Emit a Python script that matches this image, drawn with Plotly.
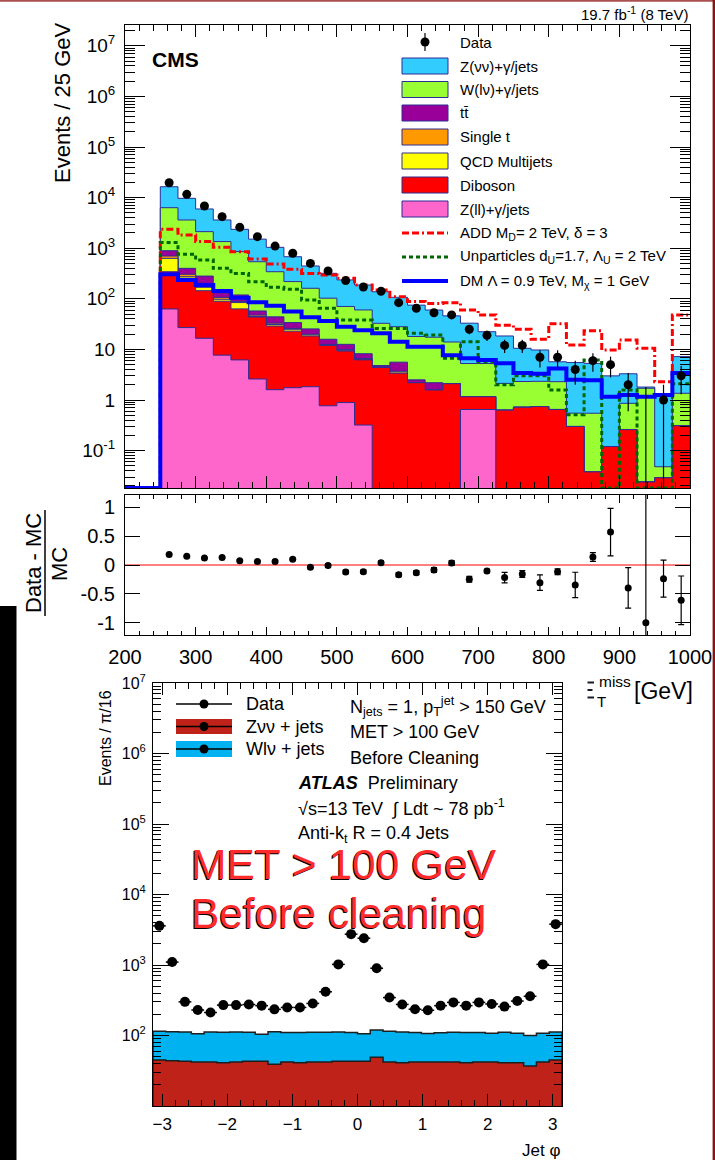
import numpy as np
import plotly.graph_objects as go

FIG_W, FIG_H = 715, 1160
FONT = "Liberation Sans, Arial, sans-serif"


def px(x):
    return x / FIG_W


def py(y):
    return 1 - y / FIG_H


# ---------------- CMS monojet: missing transverse energy ----------------
met_edges = np.arange(250, 1001, 25)
met_centers = met_edges[:-1] + 12.5

met_data = [19700, 11600, 6820, 4200, 2580, 1690, 1100, 794, 500, 355,
            229, 171, 141, 84, 65, 53, 48, 25, 19, 12,
            12, 7, 7, 4, 6, 5, 2, 0, 1, 3]
met_data_err_up = [140, 108, 83, 65, 51, 41, 33, 28, 22, 19,
                   15, 13, 12, 9.2, 8.1, 7.3, 6.9, 5.0, 4.4, 3.5,
                   3.5, 2.6, 2.6, 2.0, 2.4, 2.2, 1.4, 1.8, 1.0, 1.7]
met_data_err_dn = [140, 108, 83, 65, 51, 41, 33, 28, 22, 19,
                   15, 13, 12, 9.2, 8.1, 7.3, 6.9, 5.0, 4.4, 3.5,
                   3.5, 2.6, 2.6, 2.0, 2.4, 2.2, 1.4, 0.0, 1.0, 1.7]

# background processes, bottom of the stack first
zll = [63, 27, 16.6, 7.7, 6.2, 2.6, 1.6, 1.75, 1.83, 0.77,
       0.89, 0.32, 0, 0, 0, 0, 0, 0.65, 0.65, 0,
       0, 0, 0, 0, 0, 0, 0, 0, 0, 0]
diboson = [280, 227, 128, 82, 57, 41, 27.4, 21.2, 16.6, 11.2,
           8.4, 5.9, 4.4, 3.4, 2.2, 1.58, 2.1, 0.51, 0.51, 0.63,
           0.72, 0.74, 0.65, 0.30, 0.038, 0.12, 0.26, 0.024, 0.029, 0.31]
qcd = [287, 19, 24, 8, 21, 1, 2, 2, 1, 0.3,
       0.3, 0.1, 0, 0.2, 0, 0, 0, 0, 0, 0,
       0, 0, 0, 0, 0, 0, 0, 0, 0, 0]
single_t = [71, 32, 33, 9, 4, 3, 2, 1, 0.5, 0.3,
            0.3, 0.3, 0.1, 0.1, 0, 0, 0, 0, 0, 0,
            0, 0, 0, 0, 0, 0, 0, 0, 0, 0]
ttbar = [191, 95, 80, 25, 31, 10, 11, 8, 5.5, 3.3,
         2.7, 1.6, 0.3, 1.9, 0.3, 0.62, 0, 0, 0, 0,
         0, 0, 0, 0, 0, 0, 0, 0, 0, 0]
wlnu = [5420, 3210, 1840, 1220, 736, 483, 299, 185, 136, 87,
        58, 52, 28, 22.5, 15.5, 15.2, 11.9, 4.1, 4.1, 1.5,
        1.6, 1.6, 1.65, 0.25, 0.51, 0, 0.6, 1.68, 0.019, 1.05]
znunu = [10090, 6070, 3840, 2260, 1505, 969, 697, 459, 284, 216,
         166, 127, 105, 79, 57, 42.6, 32, 27.7, 17.1, 16.3,
         8.2, 7.4, 3.4, 4.95, 4.75, 2.88, 2.44, 0.1, 1.26, 5.84]

# signal hypotheses
add_signal = [2360, 1820, 1350, 1040, 855, 612, 487, 383, 318, 295,
              254, 187, 149, 110, 88, 81, 84, 60, 48, 30,
              25, 15.9, 32, 12.2, 23.4, 9.7, 15.3, 10.5, 2.3, 48]
unparticles = [1290, 760, 585, 400, 318, 218, 169, 154, 95, 65,
               38, 38, 26, 26, 20.8, 19.3, 6.7, 14.2, 5.7, 2.0,
               3.0, 3.0, 1.58, 0.51, 6.2, 0, 1.58, 0, 0, 2.1]
dm_signal = [305, 236, 187, 143, 105, 85, 73, 56, 43, 36.5,
             28, 24, 20.8, 14.2, 11.3, 11.3, 7.7, 6.7, 6.2, 5.3,
             3.4, 3.3, 4.2, 2.5, 2.45, 1.16, 1.26, 1.16, 1.26, 3.4]

# (Data - MC) / MC
ratio = [0.18, 0.15, 0.12, 0.13, 0.075, 0.06, 0.06, 0.10, -0.04, -0.01,
         -0.12, -0.115, 0.04, -0.167, -0.132, -0.086, 0.034, -0.247, -0.103, -0.218,
         -0.155, -0.305, -0.115, -0.345, 0.138, 0.569, -0.397, -1.0, -0.236, -0.61]
ratio_err = [0.01, 0.01, 0.01, 0.015, 0.015, 0.02, 0.02, 0.02, 0.025, 0.03,
             0.03, 0.03, 0.03, 0.035, 0.035, 0.04, 0.04, 0.05, 0.03, 0.09,
             0.06, 0.135, 0.05, 0.22, 0.075, 0.41, 0.35, 3.0, 0.32, 0.42]

cms_y_ticks = [1e-1, 1, 10, 1e2, 1e3, 1e4, 1e5, 1e6, 1e7]
cms_y_labels = ["10<sup>-1</sup>", "1", "10", "10<sup>2</sup>", "10<sup>3</sup>",
                "10<sup>4</sup>", "10<sup>5</sup>", "10<sup>6</sup>", "10<sup>7</sup>"]
ratio_ticks = [-1, -0.5, 0, 0.5, 1]
ratio_labels = ["-1", "-0.5", "0", "0.5", "1"]
met_ticks = [200, 300, 400, 500, 600, 700, 800, 900, 1000]
met_labels = ["200", "300", "400", "500", "600", "700", "800", "900", "1000"]

# ---------------- ATLAS: jet phi before cleaning ----------------
phi_edges = np.linspace(-np.pi, np.pi, 33)
phi_centers = 0.5 * (phi_edges[1:] + phi_edges[:-1])

phi_data = [3590, 1100, 300, 230, 212, 270, 270, 275, 265, 235,
            250, 250, 285, 417, 1020, 2740, 2400, 900, 345, 276,
            236, 228, 265, 295, 265, 295, 280, 257, 308, 360,
            1020, 3800]
phi_zvv = [45, 44, 43, 42, 42, 41, 42, 43, 43, 39,
           42, 41, 42, 42, 43, 43, 43, 49, 42, 41,
           42, 42, 42, 42, 41, 42, 42, 41, 41, 37,
           42, 45]
phi_wlv = [70, 69, 69, 64, 70, 70, 70, 68, 61, 74,
           68, 69, 69, 69, 69, 67, 63, 71, 73, 71,
           68, 65, 67, 69, 69, 68, 66, 70, 67, 63,
           66, 67]

atlas_y_ticks = [1e2, 1e3, 1e4, 1e5, 1e6, 1e7]
atlas_y_labels = ["10<sup>2</sup>", "10<sup>3</sup>", "10<sup>4</sup>",
                  "10<sup>5</sup>", "10<sup>6</sup>", "10<sup>7</sup>"]
phi_ticks = [-3, -2, -1, 0, 1, 2, 3]
phi_labels = ["\u22123", "\u22122", "\u22121", "0", "1", "2", "3"]

# ---------------- styles ----------------
STACK_EDGE = "rgb(45,45,150)"
stack_colors = ["#ff66cc", "#ff0000", "#ffff00", "#ff9900", "#990099", "#99ff33", "#33ccff"]
ZVV_RED = "rgb(190,34,24)"
WLV_CYAN = "rgb(0,178,240)"
ADD_DASH = "7px,3px,7px,3px,2px,3px"
UNP_DASH = "4px,3px"

CMS_YMIN, CMS_YMAX = -1.739, 7.411
STACK_FLOOR = 1e-4
LINE_FLOOR = 10 ** CMS_YMIN

fig = go.Figure()

# CMS stacked backgrounds: draw cumulative totals from the top down
layers = np.array([zll, diboson, qcd, single_t, ttbar, wlnu, znunu], dtype=float)
cum = np.cumsum(layers, axis=0)
step_x = np.concatenate([[met_edges[0]], met_edges, [met_edges[-1]]])
for i in reversed(range(len(layers))):
    vals = np.maximum(cum[i], STACK_FLOOR)
    step_y = np.concatenate([[STACK_FLOOR], vals, [vals[-1], STACK_FLOOR]])
    fig.add_trace(go.Scatter(
        x=step_x, y=step_y, mode="lines", fill="toself", fillcolor=stack_colors[i],
        line=dict(shape="hv", color=STACK_EDGE, width=1),
        xaxis="x", yaxis="y", showlegend=False, hoverinfo="skip"))

# signal lines (empty bins sit on the lower frame edge)
sig_x = np.concatenate([[200], met_edges])
for vals, color, dash, width in [
        (add_signal, "#ff0000", ADD_DASH, 3),
        (unparticles, "#006600", UNP_DASH, 3),
        (dm_signal, "#0000ff", "solid", 4)]:
    v = np.maximum(np.asarray(vals, dtype=float), LINE_FLOOR)
    sig_y = np.concatenate([[LINE_FLOOR], v, [v[-1]]])
    fig.add_trace(go.Scatter(
        x=sig_x, y=sig_y, mode="lines",
        line=dict(shape="hv", color=color, width=width, dash=dash),
        xaxis="x", yaxis="y", showlegend=False, hoverinfo="skip"))

# observed data
data_arr = np.asarray(met_data, dtype=float)
data_plot = np.where(data_arr > 0, data_arr, STACK_FLOOR)
err_dn = np.minimum(np.asarray(met_data_err_dn, dtype=float), data_plot - STACK_FLOOR)
fig.add_trace(go.Scatter(
    x=met_centers, y=data_plot, mode="markers",
    marker=dict(color="black", size=9),
    error_y=dict(type="data", symmetric=False, array=met_data_err_up,
                 arrayminus=err_dn, width=0, thickness=1.2, color="black"),
    xaxis="x", yaxis="y", showlegend=False, hoverinfo="skip"))

# ratio panel
fig.add_trace(go.Scatter(
    x=met_centers, y=ratio, mode="markers",
    marker=dict(color="black", size=7),
    error_y=dict(type="data", array=ratio_err, width=3, thickness=1.2, color="black"),
    xaxis="x2", yaxis="y2", showlegend=False, hoverinfo="skip"))

# ATLAS stack
phi_step_x = np.concatenate([[phi_edges[0]], phi_edges, [phi_edges[-1]]])
phi_total = np.asarray(phi_zvv, dtype=float) + np.asarray(phi_wlv, dtype=float)
for vals, color in [(phi_total, WLV_CYAN), (np.asarray(phi_zvv, dtype=float), ZVV_RED)]:
    step_y = np.concatenate([[1.0], vals, [vals[-1], 1.0]])
    fig.add_trace(go.Scatter(
        x=phi_step_x, y=step_y, mode="lines", fill="toself", fillcolor=color,
        line=dict(shape="hv", color="rgb(30,30,30)", width=1.5),
        xaxis="x3", yaxis="y3", showlegend=False, hoverinfo="skip"))

fig.add_trace(go.Scatter(
    x=phi_centers, y=phi_data, mode="markers",
    marker=dict(color="black", size=10),
    error_x=dict(type="constant", value=np.pi / 32, width=0, thickness=1.5, color="black"),
    xaxis="x3", yaxis="y3", showlegend=False, hoverinfo="skip"))

# ---------------- axes ----------------
def log_minor(lo, hi):
    return [k * 10.0 ** e for e in range(lo, hi) for k in range(2, 10)]


axis_common = dict(showline=True, linecolor="black", linewidth=1, mirror="allticks",
                   ticks="inside", tickcolor="black", showgrid=False, zeroline=False,
                   automargin=False,
                   tickfont=dict(family=FONT, color="black"))

fig.update_layout(
    xaxis=dict(axis_common, domain=[px(125), px(690)], range=[200, 1000], anchor="y",
               tickmode="array", tickvals=met_ticks, ticklen=12, showticklabels=False,
               minor=dict(tickmode="linear", tick0=200, dtick=20, ticklen=6, ticks="inside",
                          tickcolor="black")),
    yaxis=dict(axis_common, type="log", domain=[py(488), py(25)], range=[CMS_YMIN, CMS_YMAX],
               anchor="x", tickmode="array", tickvals=cms_y_ticks, ticktext=cms_y_labels,
               ticklen=20, tickfont=dict(family=FONT, size=19, color="black"),
               ticklabelstandoff=5,
               minor=dict(tickmode="array", tickvals=log_minor(-2, 8), ticklen=10,
                          ticks="inside", tickcolor="black")),
    xaxis2=dict(axis_common, domain=[px(125), px(690)], range=[200, 1000], anchor="y2",
                tickmode="array", tickvals=met_ticks, ticktext=met_labels, ticklen=8,
                tickfont=dict(family=FONT, size=20, color="black"), ticklabelstandoff=4,
                minor=dict(tickmode="linear", tick0=200, dtick=20, ticklen=4, ticks="inside",
                           tickcolor="black")),
    yaxis2=dict(axis_common, domain=[py(635), py(495)], range=[-1.21, 1.21], anchor="x2",
                tickmode="array", tickvals=ratio_ticks, ticktext=ratio_labels, ticklen=15,
                tickfont=dict(family=FONT, size=20, color="black"), ticklabelstandoff=5),
    xaxis3=dict(axis_common, domain=[px(153), px(562)], range=[-np.pi, np.pi], anchor="y3",
                tickmode="array", tickvals=phi_ticks, ticktext=phi_labels, ticklen=12,
                tickfont=dict(family=FONT, size=17, color="black"), ticklabelstandoff=3,
                minor=dict(tickmode="linear", tick0=0, dtick=0.2, ticklen=6, ticks="inside",
                           tickcolor="black")),
    yaxis3=dict(axis_common, type="log", domain=[py(1106), py(683)], range=[1, 7], anchor="x3",
                tickmode="array", tickvals=atlas_y_ticks, ticktext=atlas_y_labels, ticklen=16,
                tickfont=dict(family=FONT, size=16, color="black"), ticklabelstandoff=3,
                minor=dict(tickmode="array", tickvals=log_minor(1, 7), ticklen=8,
                           ticks="inside", tickcolor="black")),
)

# ---------------- shapes ----------------
shapes = []


def rect(x0, y0, x1, y1, fill, line_color=None, line_width=0, layer="above"):
    shapes.append(dict(type="rect", xref="paper", yref="paper",
                       x0=px(x0), x1=px(x1), y0=py(y1), y1=py(y0),
                       fillcolor=fill, layer=layer,
                       line=dict(color=line_color or fill, width=line_width)))


def hline(x0, x1, y, color, width, dash="solid"):
    shapes.append(dict(type="line", xref="paper", yref="paper",
                       x0=px(x0), x1=px(x1), y0=py(y), y1=py(y),
                       line=dict(color=color, width=width, dash=dash)))


def vline(x, y0, y1, color, width):
    shapes.append(dict(type="line", xref="paper", yref="paper",
                       x0=px(x), x1=px(x), y0=py(y0), y1=py(y1),
                       line=dict(color=color, width=width)))


def dot(x, y, d, color="black"):
    shapes.append(dict(type="circle", xref="paper", yref="paper",
                       x0=px(x - d / 2), x1=px(x + d / 2), y0=py(y + d / 2), y1=py(y - d / 2),
                       fillcolor=color, line=dict(color=color, width=0)))


# zero line of the ratio panel
shapes.append(dict(type="line", xref="x2", yref="y2", x0=200, x1=1000, y0=0, y1=0,
                   line=dict(color="#ff0000", width=1), layer="below"))

# CMS legend
legend_rows = [42, 66, 89.5, 113, 137, 161, 185, 209, 233, 257, 281]
vline(425, 33, 51, "black", 1.2)
dot(425, legend_rows[0], 9)
for row, color in zip(legend_rows[1:8], stack_colors[::-1]):
    rect(402, row - 8, 448, row + 8, color, STACK_EDGE, 1)
hline(402, 448, legend_rows[8], "#ff0000", 3, ADD_DASH)
hline(402, 448, legend_rows[9], "#006600", 3, UNP_DASH)
hline(402, 448, legend_rows[10], "#0000ff", 4)

# ratio axis title fraction bar
vline(45, 510, 616, "black", 1.5)

# right-hand sliver of the "E" in the CMS axis title (rest sits under the ATLAS panel)
for yb, x_end in [(682.5, 594), (690, 592.5), (697.5, 594)]:
    hline(587.5, x_end, yb, "rgb(25,25,40)", 2)

# ATLAS legend
rect(176, 719, 232, 734, ZVV_RED)
rect(176, 741, 232, 757, WLV_CYAN)
for row in [704, 726.5, 749]:
    hline(176, 232, row, "black", 1.5)
    dot(204, row, 9)

# page decorations
rect(0, 606, 16.5, 1160, "black")
rect(0, 0, 715, 1.8, "rgb(170,80,80)")
rect(712.6, 0, 715, 1160, "rgb(140,20,20)")

fig.update_layout(shapes=shapes)

# ---------------- text ----------------
annotations = []


def text(x, y, s, size, xanchor="left", yanchor="middle", color="black", angle=0):
    annotations.append(dict(x=px(x), y=py(y), xref="paper", yref="paper", text=s,
                            showarrow=False, xanchor=xanchor, yanchor=yanchor,
                            textangle=angle,
                            font=dict(family=FONT, size=size, color=color)))


text(150, 60, "<b>CMS</b>", 21)
text(690, 14, "19.7 fb<sup>-1</sup> (8 TeV)", 15, xanchor="right")
text(62, 102, "Events / 25 GeV", 22, xanchor="center", angle=-90)
text(33, 563, "Data - MC", 22, xanchor="center", angle=-90)
text(59, 564, "MC", 22, xanchor="center", angle=-90)
# E_T^miss [GeV] axis title, drawn piecewise
text(595, 701, "T", 15)
text(596.5, 681.5, "miss", 15.5)
text(695, 691, "[GeV]", 23, xanchor="right")

legend_labels = ["Data", "Z(\u03bd\u03bd)+\u03b3/jets", "W(l\u03bd)+\u03b3/jets", "tt\u0304",
                 "Single t", "QCD Multijets", "Diboson", "Z(ll)+\u03b3/jets",
                 "ADD M<sub>D</sub>= 2 TeV, \u03b4 = 3",
                 "Unparticles d<sub>U</sub>=1.7, \u039b<sub>U</sub> = 2 TeV",
                 "DM \u039b = 0.9 TeV, M<sub>\u03c7</sub> = 1 GeV"]
for row, label in zip(legend_rows, legend_labels):
    text(458, row, label, 15)

# ATLAS texts
text(105, 738, "Events / \u03c0/16", 16, xanchor="center", angle=-90)
text(562, 1150, "Jet \u03c6", 17, xanchor="right")
text(244, 704, "Data", 18)
text(244, 726.5, "Z\u03bd\u03bd + jets", 18)
text(244, 749, "Wl\u03bd + jets", 18)
text(348, 706, "N<sub>jets</sub> = 1, p<sub>T</sub><sup>jet</sup> > 150 GeV", 18)
text(348, 732, "MET > 100 GeV", 18)
text(348, 758, "Before Cleaning", 18)
text(296, 783, "<b><i>ATLAS</i></b>  Preliminary", 18)
text(296, 808, "\u221as=13 TeV  \u222b Ldt ~ 78 pb<sup>-1</sup>", 18)
text(296, 834, "Anti-k<sub>t</sub> R = 0.4 Jets", 18)
for dx, dy, col in [(-1.5, 1.5, "black"), (0, 0, "#ff2a2a")]:
    text(189 + dx, 864 + dy, "MET > 100 GeV", 42.5, color=col)
    text(189 + dx, 913 + dy, "Before cleaning", 42.5, color=col)

fig.update_layout(
    annotations=annotations,
    width=FIG_W, height=FIG_H, autosize=False,
    margin=dict(l=0, r=0, t=0, b=0, pad=0, autoexpand=False),
    paper_bgcolor="white", plot_bgcolor="rgba(0,0,0,0)",
    showlegend=False,
)

page_setup = ("document.documentElement.style.margin='0';"
              "document.documentElement.style.overflow='hidden';"
              "document.body.style.margin='0';"
              "document.body.style.overflow='hidden';")

fig.write_html("out.html", config={"displayModeBar": False, "responsive": False},
               post_script=page_setup)
